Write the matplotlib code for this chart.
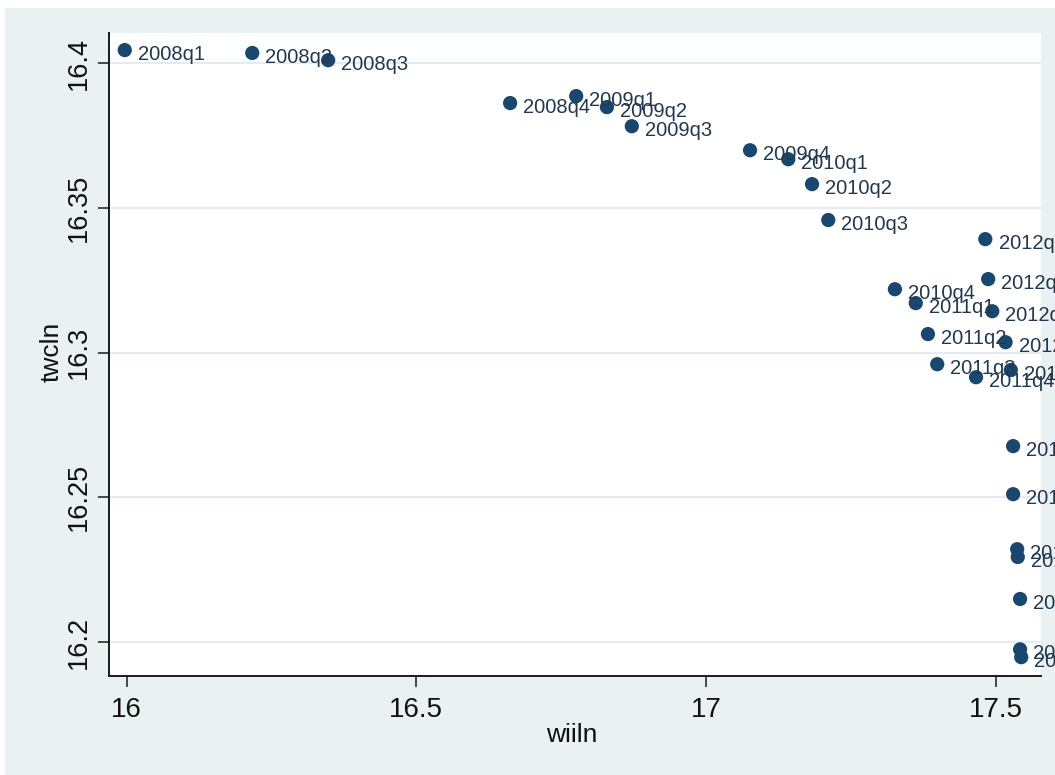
import matplotlib
matplotlib.use("Agg")
import matplotlib.pyplot as plt
from matplotlib.patches import Rectangle

# Quarterly observations: log Wii installed base vs log TWC subscribers
quarters = [
    "2008q1", "2008q2", "2008q3", "2008q4",
    "2009q1", "2009q2", "2009q3", "2009q4",
    "2010q1", "2010q2", "2010q3", "2010q4",
    "2011q1", "2011q2", "2011q3", "2011q4",
    "2012q1", "2012q2", "2012q3", "2012q4",
    "2013q1", "2013q2", "2013q3", "2013q4",
    "2014q1", "2014q2", "2014q3", "2014q4",
]
wiiln = [
    15.997, 16.217, 16.348, 16.662,
    16.776, 16.829, 16.872, 17.076,
    17.142, 17.183, 17.211, 17.326,
    17.362, 17.383, 17.399, 17.466,
    17.482, 17.487, 17.494, 17.517,
    17.526, 17.530, 17.530, 17.537,
    17.538, 17.542, 17.542, 17.544,
]
twcln = [
    16.4045, 16.4035, 16.4010, 16.3862,
    16.3886, 16.3848, 16.3782, 16.3699,
    16.3668, 16.3582, 16.3458, 16.3219,
    16.3171, 16.3064, 16.2960, 16.2915,
    16.3392, 16.3254, 16.3143, 16.3036,
    16.2940, 16.2677, 16.2511, 16.2321,
    16.2294, 16.2149, 16.1975, 16.1948,
]

x_ticks = [16, 16.5, 17, 17.5]
x_ticklabels = ["16", "16.5", "17", "17.5"]
y_ticks = [16.2, 16.25, 16.3, 16.35, 16.4]
y_ticklabels = ["16.2", "16.25", "16.3", "16.35", "16.4"]

W, H, DPI = 1055, 775, 100
BG = "#eaf1f3"
NAVY = "#1a476f"
LABEL_COLOR = "#22384f"
FONT = ["Liberation Sans", "DejaVu Sans"]

fig = plt.figure(figsize=(W / DPI, H / DPI), dpi=DPI, facecolor="white")
# graph region background
fig.patches.append(Rectangle((5 / W, 0), 1, 1 - 8 / H, transform=fig.transFigure,
                             facecolor=BG, edgecolor="none", zorder=-10))

left, right, top, bottom = 109, 1041, 33, 676
ax = fig.add_axes([left / W, 1 - bottom / H, (right - left) / W, (bottom - top) / H])
ax.set_facecolor("white")

ax.set_xlim(15.9698, 17.5781)
ax.set_ylim(16.1883, 16.4104)

for y in y_ticks:
    ax.axhline(y, color="#e4ecef", lw=1.5, zorder=0)

ax.scatter(wiiln, twcln, s=105, color=NAVY, edgecolors="none", zorder=3)
for q, xv, yv in zip(quarters, wiiln, twcln):
    ax.annotate(q, (xv, yv), xytext=(9.5, -3), textcoords="offset points",
                ha="left", va="center", fontsize=14.5, color=LABEL_COLOR,
                family=FONT, zorder=4, annotation_clip=False)

for side in ("top", "right"):
    ax.spines[side].set_visible(False)
for side in ("left", "bottom"):
    ax.spines[side].set_linewidth(1.4)
    ax.spines[side].set_color("#1a1a1a")

ax.set_xticks(x_ticks)
ax.set_xticklabels(x_ticklabels, family=FONT, fontsize=20)
ax.set_yticks(y_ticks)
ax.set_yticklabels(y_ticklabels, family=FONT, fontsize=19.5, rotation=90, va="center")
ax.tick_params(axis="both", direction="out", length=8, width=1.1, color="#1a1a1a",
               labelcolor="#111111")
ax.tick_params(axis="x", pad=7)
ax.tick_params(axis="y", pad=4)

ax.set_xlabel("wiiln", family=FONT, fontsize=19, color="#111111")
ax.set_ylabel("twcln", family=FONT, fontsize=19, color="#111111")
ax.xaxis.set_label_coords((572 - left) / (right - left), -(735 - bottom) / (bottom - top))
ax.yaxis.set_label_coords(-(109 - 52) / (right - left), (bottom - 352) / (bottom - top))
ax.xaxis.label.set_va("center")
ax.yaxis.label.set_va("center")

fig.savefig("out.png", dpi=DPI, facecolor=fig.get_facecolor())
